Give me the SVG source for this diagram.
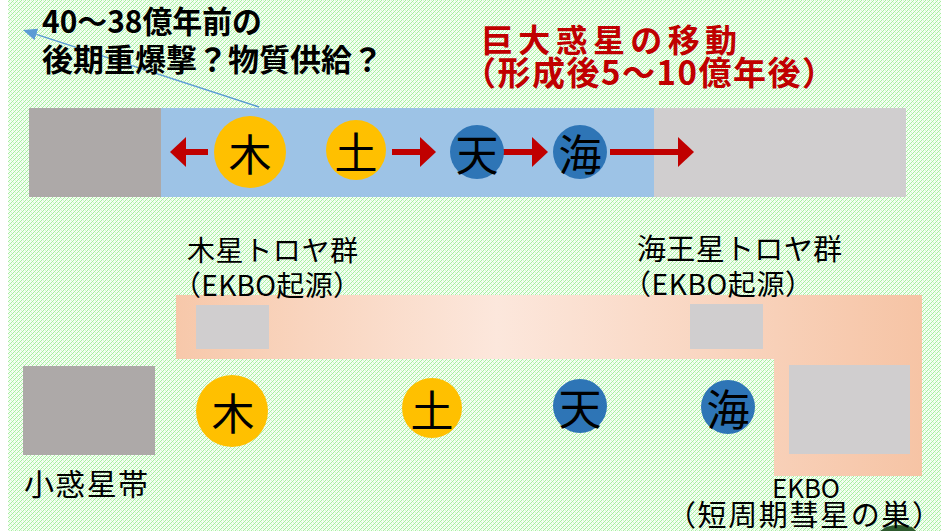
<svg xmlns="http://www.w3.org/2000/svg" width="941" height="531" viewBox="0 0 941 531">
<defs>
<pattern id="bgp" width="4" height="4" patternUnits="userSpaceOnUse">
<rect width="4" height="4" fill="#f5fef3"/>
<rect x="0" y="1" width="1" height="1" fill="#a6efa0"/>
<rect x="1" y="0" width="1" height="1" fill="#a6efa0"/>
<rect x="2" y="3" width="1" height="1" fill="#a6efa0"/>
<rect x="3" y="2" width="1" height="1" fill="#a6efa0"/>
<rect x="1" y="2" width="1" height="1" fill="#d2f9ce"/>
<rect x="3" y="0" width="1" height="1" fill="#d2f9ce"/>
</pattern>
<linearGradient id="og" x1="176" y1="0" x2="922" y2="0" gradientUnits="userSpaceOnUse">
<stop offset="0" stop-color="#f7c8aa"/>
<stop offset="0.43" stop-color="#fce7dc"/>
<stop offset="1" stop-color="#f6c4a5"/>
</linearGradient>
<marker id="rh" viewBox="0 0 16 30" markerWidth="16" markerHeight="30" refX="0" refY="15" markerUnits="userSpaceOnUse" orient="auto">
<path d="M0,0 L16,15 L0,30 Z" fill="#c00000"/>
</marker>
<marker id="bh" viewBox="0 0 14 12" markerWidth="14" markerHeight="12" refX="0" refY="6" markerUnits="userSpaceOnUse" orient="auto">
<path d="M0,0 L14,6 L0,12 Z" fill="#5b9bd5"/>
</marker>
</defs>
<style>
.jp{font-family:"Noto Sans CJK JP","Noto Sans",sans-serif;}
.bold{font-weight:bold;}
.lbl{fill:#000;}
.pl{font-size:43px;fill:#000;text-anchor:middle;dominant-baseline:central;}
.yel{fill:#ffc000;}
.blu{fill:#2e75b6;}
.g1{fill:#ada9a8;}
.g2{fill:#d0cecf;}
.red{stroke:#c00000;stroke-width:6;fill:none;marker-end:url(#rh);}
</style>
<rect x="0" y="0" width="941" height="531" fill="#ffffff"/>
<rect x="8" y="0" width="933" height="531" fill="url(#bgp)"/>

<g id="top-band">
<rect x="29" y="108" width="132" height="89" class="g1"/>
<rect x="161" y="108" width="493" height="89" fill="#9dc3e6"/>
<rect x="654" y="108" width="252" height="89" class="g2"/>
</g>

<g id="kuiper-band">
<path d="M176,295 H922 V476 H774 V359 H176 Z" fill="url(#og)"/>
<rect x="196" y="305" width="73" height="44" class="g2"/>
<rect x="690" y="304" width="73" height="45" class="g2"/>
<rect x="789" y="365" width="121" height="89" class="g2"/>
</g>

<g id="asteroid-belt">
<rect x="23" y="366" width="132" height="89" class="g1"/>
<text x="24" y="495" class="jp lbl" font-size="30" textLength="124" lengthAdjust="spacing">小惑星帯</text>
</g>

<g id="connectors">
<line x1="259" y1="107" x2="36.3" y2="34.4" stroke="#5b9bd5" stroke-width="1.5" marker-end="url(#bh)"/>
<line x1="208" y1="152" x2="186" y2="152" class="red"/>
<line x1="392" y1="152" x2="420" y2="152" class="red"/>
<line x1="503" y1="152" x2="532" y2="152" class="red"/>
<line x1="610" y1="152" x2="678" y2="152" class="red"/>
</g>

<g id="top-jupiter"><circle cx="250" cy="152" r="36" class="yel"/><text x="250" y="152" class="jp pl">木</text></g>
<g id="top-saturn"><circle cx="356" cy="150" r="30" class="yel"/><text x="356" y="150" class="jp pl">土</text></g>
<g id="top-uranus"><circle cx="477" cy="152" r="27" class="blu"/><text x="477" y="152" class="jp pl">天</text></g>
<g id="top-neptune"><circle cx="580" cy="152" r="27" class="blu"/><text x="580" y="152" class="jp pl">海</text></g>

<g id="bot-jupiter"><circle cx="232" cy="411" r="36" class="yel"/><text x="233" y="411" class="jp pl">木</text></g>
<g id="bot-saturn"><circle cx="432" cy="408" r="30" class="yel"/><text x="432" y="408" class="jp pl">土</text></g>
<g id="bot-uranus"><circle cx="580" cy="406" r="27" class="blu"/><text x="580" y="406" class="jp pl">天</text></g>
<g id="bot-neptune"><circle cx="728" cy="407" r="27" class="blu"/><text x="728" y="407" class="jp pl">海</text></g>

<g id="note-bombardment">
<text x="42" y="33" class="jp bold" font-size="31" textLength="220" lengthAdjust="spacingAndGlyphs">40～38億年前の</text>
<text x="42" y="71" class="jp bold" font-size="31" textLength="341" lengthAdjust="spacingAndGlyphs">後期重爆撃？物質供給？</text>
</g>

<g id="title">
<text x="481" y="52" class="jp bold" font-size="32" fill="#c00000" textLength="256" lengthAdjust="spacing">巨大惑星の移動</text>
<text x="463" y="85" class="jp bold" font-size="33" fill="#c00000" textLength="372" lengthAdjust="spacing">（形成後5～10億年後）</text>
</g>

<g id="jupiter-trojans">
<text x="187" y="261" class="jp lbl" font-size="28" textLength="171" lengthAdjust="spacing">木星トロヤ群</text>
<text x="173" y="296" class="jp lbl" font-size="28" textLength="188" lengthAdjust="spacing">（EKBO起源）</text>
</g>

<g id="neptune-trojans">
<text x="637" y="260" class="jp lbl" font-size="29" textLength="205" lengthAdjust="spacing">海王星トロヤ群</text>
<text x="623" y="295" class="jp lbl" font-size="28" textLength="190" lengthAdjust="spacing">（EKBO起源）</text>
</g>

<g id="ekbo-label">
<path d="M880,531 L886,527 Q898,523 912,527 L916,531 Z" fill="#2d5a2d"/>
<text x="772" y="498" class="jp lbl" font-size="26" textLength="68" lengthAdjust="spacingAndGlyphs">EKBO</text>
<text x="667" y="526" class="jp lbl" font-size="29" textLength="274" lengthAdjust="spacing">（短周期彗星の巣）</text>
</g>
</svg>
